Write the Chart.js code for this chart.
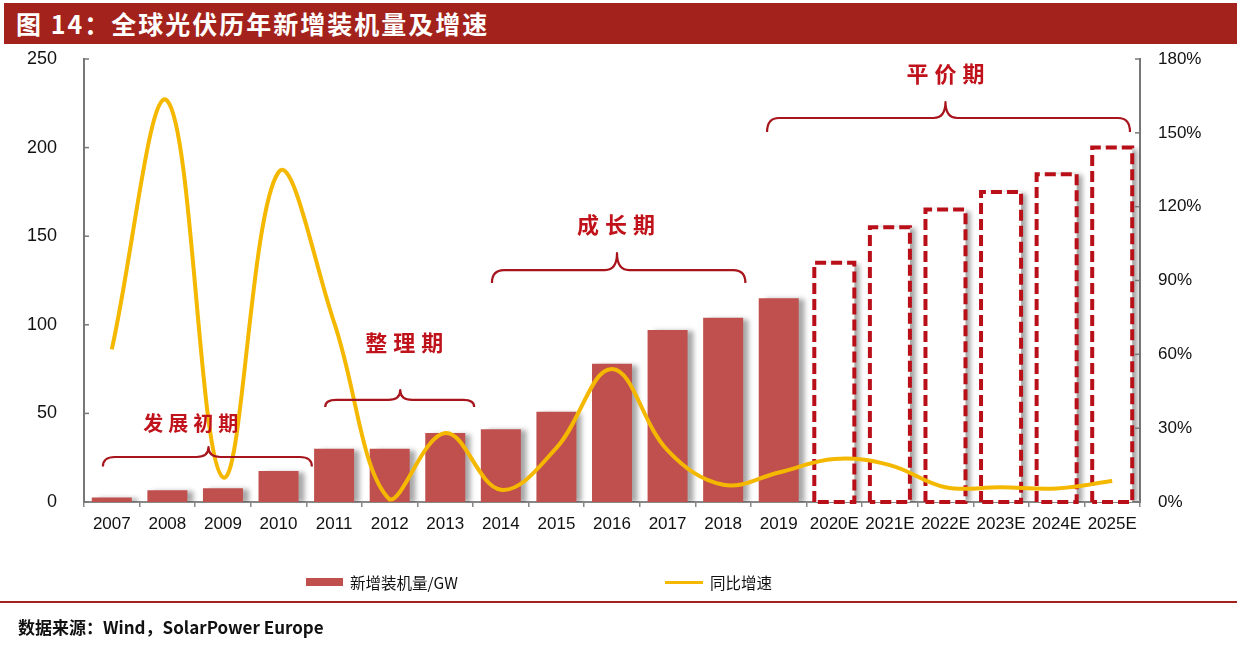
<!DOCTYPE html>
<html><head><meta charset="utf-8">
<script src="https://cdn.jsdelivr.net/npm/chart.js@4.4.1/dist/chart.umd.min.js"></script>
<style>
html,body{margin:0;padding:0;background:#fff;width:1242px;height:647px;overflow:hidden;}
#wrap{position:relative;width:1242px;height:647px;}
#c{position:absolute;left:0;top:0;}
#title{position:absolute;left:4px;top:3px;width:1233px;height:41px;background:#a3221b;color:#fff;font-weight:bold;font-size:25px;font-family:"Noto Sans CJK SC",sans-serif;line-height:41px;padding-left:12px;box-sizing:border-box;letter-spacing:2px;}
#rule{position:absolute;left:0;top:601px;width:1237px;height:2px;background:#a3221b;}
#source{position:absolute;left:18px;top:615px;font-weight:bold;font-size:17px;font-family:"Noto Sans CJK SC",sans-serif;color:#111;line-height:24px;}
.lg{position:absolute;top:571px;height:22px;display:flex;align-items:center;font-size:15.5px;font-family:"Noto Sans CJK SC",sans-serif;color:#111;}
.sw{display:inline-block;margin-right:7px;}
</style></head>
<body><div id="wrap">
<canvas id="c" width="1242" height="647"></canvas>
<div id="title">图 14：全球光伏历年新增装机量及增速</div>
<div id="legend"></div>
<div id="rule"></div>
<div id="source">数据来源：Wind，SolarPower Europe</div>
</div>
<script>
// ---- data ----
const categories = ['2007','2008','2009','2010','2011','2012','2013','2014','2015','2016','2017','2018','2019','2020E','2021E','2022E','2023E','2024E','2025E'];
const capacityGW = [2.5, 6.7, 7.8, 17.5, 30, 30, 39, 41, 51, 78, 97, 104, 115, 135, 155, 165, 175, 185, 200];
const growthPct  = [62, 163, 10, 134, 73, 1, 28, 5, 22, 54, 21, 7, 12, 17.5, 15, 6, 6, 5.5, 8.5];
const seriesNames = ['新增装机量/GW', '同比增速'];
const leftTicks = {min: 0, max: 250, step: 50};
const rightTicks = {min: 0, max: 180, step: 30};
const phaseNames = ['发展初期', '整理期', '成长期', '平价期'];

// ---- annotation layout (category index units / left-axis units) ----
const phaseLayout = [
  {from:-0.16, to:3.6,  tip:1.74, end:20,    flat:25.4,  top:31,    lx:1.42, ly:44.6, size:20, gap:5},
  {from:3.84,  to:6.52, tip:5.19, end:53.6,  flat:57.6,  top:63.2,  lx:5.26, ly:89.7, size:22, gap:6},
  {from:6.84,  to:11.4, tip:9.09, end:123.6, flat:130.9, top:140.5, lx:9.07, ly:156.3, size:22, gap:6},
  {from:11.79, to:18.32,tip:15.0, end:208.8, flat:216.7, top:225.7, lx:15.0, ly:242,  size:22, gap:6}
];

const BAR_RED = '#c0504d';
const DASH_RED = '#b80f18';
const LINE_YELLOW = '#f5b800';
const isForecast = categories.map(c => c.endsWith('E'));

// legend (HTML, from series)
const lg = document.getElementById('legend');
lg.innerHTML =
  '<div class="lg" style="left:306px"><span class="sw" style="width:37px;height:8px;background:'+BAR_RED+'"></span>'+seriesNames[0]+'</div>'+
  '<div class="lg" style="left:665px"><span class="sw" style="width:38px;height:3px;background:'+LINE_YELLOW+'"></span>'+seriesNames[1]+'</div>';

const decoPlugin = {
  id: 'deco',
  beforeDatasetDraw(chart, args) {
    if (args.index !== 0) return;
    const ctx = chart.ctx;
    ctx.save();
    ctx.shadowColor = 'rgba(0,0,0,0.35)';
    ctx.shadowOffsetX = 6;
    ctx.shadowOffsetY = 1;
    ctx.shadowBlur = 5;
  },
  afterDatasetDraw(chart, args) {
    if (args.index !== 0) return;
    const ctx = chart.ctx;
    ctx.restore();
    const meta = chart.getDatasetMeta(0);
    ctx.save();
    ctx.strokeStyle = DASH_RED;
    ctx.lineWidth = 4;
    ctx.setLineDash([11, 5]);
    meta.data.forEach((el, i) => {
      if (!isForecast[i]) return;
      const p = el.getProps(['x','y','base','width'], true);
      const l = p.x - p.width/2, r = p.x + p.width/2;
      ctx.beginPath();
      ctx.moveTo(l, p.base); ctx.lineTo(l, p.y); ctx.lineTo(r, p.y); ctx.lineTo(r, p.base); ctx.lineTo(l, p.base);
      ctx.stroke();
    });
    ctx.restore();
  },
  afterDraw(chart) {
    const ctx = chart.ctx;
    const xs = chart.scales.x, ys = chart.scales.y, yr = chart.scales.y1;
    // inner tick marks on y axes
    ctx.save();
    ctx.strokeStyle = '#777'; ctx.lineWidth = 1.5;
    ys.ticks.forEach(t => { const y = ys.getPixelForValue(t.value); ctx.beginPath(); ctx.moveTo(ys.right, y); ctx.lineTo(ys.right+5, y); ctx.stroke(); });
    yr.ticks.forEach(t => { const y = yr.getPixelForValue(t.value); ctx.beginPath(); ctx.moveTo(yr.left, y); ctx.lineTo(yr.left-5, y); ctx.stroke(); });
    ctx.restore();
    // phase braces + labels
    ctx.save();
    phaseLayout.forEach((b, k) => {
      const x1 = xs.getPixelForValue(b.from), x2 = xs.getPixelForValue(b.to), xm = xs.getPixelForValue(b.tip);
      const yE = ys.getPixelForValue(b.end), yF = ys.getPixelForValue(b.flat), yT = ys.getPixelForValue(b.top);
      const r = Math.min(12, yE - yF + 4);
      const rt = Math.min(12, yF - yT + 2);
      ctx.strokeStyle = '#a8141c'; ctx.lineWidth = 2.2; ctx.lineJoin = 'round';
      ctx.beginPath();
      ctx.moveTo(x1, yE);
      ctx.quadraticCurveTo(x1, yF, x1 + r, yF);
      ctx.lineTo(xm - rt, yF);
      ctx.quadraticCurveTo(xm, yF, xm, yT);
      ctx.quadraticCurveTo(xm, yF, xm + rt, yF);
      ctx.lineTo(x2 - r, yF);
      ctx.quadraticCurveTo(x2, yF, x2, yE);
      ctx.stroke();
      // label
      const txt = phaseNames[k];
      ctx.fillStyle = '#c0121b';
      ctx.font = 'bold ' + b.size + 'px "Noto Sans CJK SC"';
      ctx.textBaseline = 'middle'; ctx.textAlign = 'left';
      const chars = Array.from(txt);
      const widths = chars.map(c => ctx.measureText(c).width);
      const total = widths.reduce((a,v)=>a+v,0) + b.gap*(chars.length-1);
      let x = xs.getPixelForValue(b.lx) - total/2;
      const y = ys.getPixelForValue(b.ly);
      chars.forEach((c, i) => { ctx.fillText(c, x, y); x += widths[i] + b.gap; });
    });
    ctx.restore();
  }
};

new Chart(document.getElementById('c'), {
  data: {
    labels: categories,
    datasets: [
      {
        type: 'bar', label: seriesNames[0], data: capacityGW, yAxisID: 'y', order: 2,
        backgroundColor: categories.map((c, i) => isForecast[i] ? '#ffffff' : BAR_RED),
        borderWidth: 0, barPercentage: 0.72, categoryPercentage: 1.0
      },
      {
        type: 'line', label: seriesNames[1], data: growthPct, yAxisID: 'y1', order: 1,
        borderColor: LINE_YELLOW, borderWidth: 4, pointRadius: 0, tension: 0.38, fill: false
      }
    ]
  },
  options: {
    responsive: false, animation: false, devicePixelRatio: 1,
    layout: { padding: { top: 59, left: 0, right: 0, bottom: 105 } },
    plugins: { legend: { display: false }, tooltip: { enabled: false }, title: { display: false } },
    scales: {
      x: {
        offset: true,
        grid: { display: true, drawOnChartArea: false, drawTicks: true, tickLength: 5, color: '#888', offset: true, lineWidth: 1.5 },
        border: { display: true, color: '#888', width: 2 },
        ticks: { color: '#111', font: { family: '"Liberation Sans", Arial', size: 17 }, padding: 7, maxRotation: 0, autoSkip: false },
        afterFit: s => { s.height = 40; }
      },
      y: {
        position: 'left', min: leftTicks.min, max: leftTicks.max,
        grid: { display: false, drawTicks: false },
        border: { display: true, color: '#777', width: 2 },
        ticks: { stepSize: leftTicks.step, color: '#111', padding: 27, font: { family: '"Liberation Sans", Arial', size: 18 } },
        afterFit: s => { s.width = 84; }
      },
      y1: {
        position: 'right', min: rightTicks.min, max: rightTicks.max,
        grid: { display: false, drawTicks: false },
        border: { display: true, color: '#777', width: 2 },
        ticks: { stepSize: rightTicks.step, color: '#111', padding: 18, font: { family: '"Liberation Sans", Arial', size: 17 }, callback: v => v + '%' },
        afterFit: s => { s.width = 102; }
      }
    }
  },
  plugins: [decoPlugin]
});
</script>
</body></html>
